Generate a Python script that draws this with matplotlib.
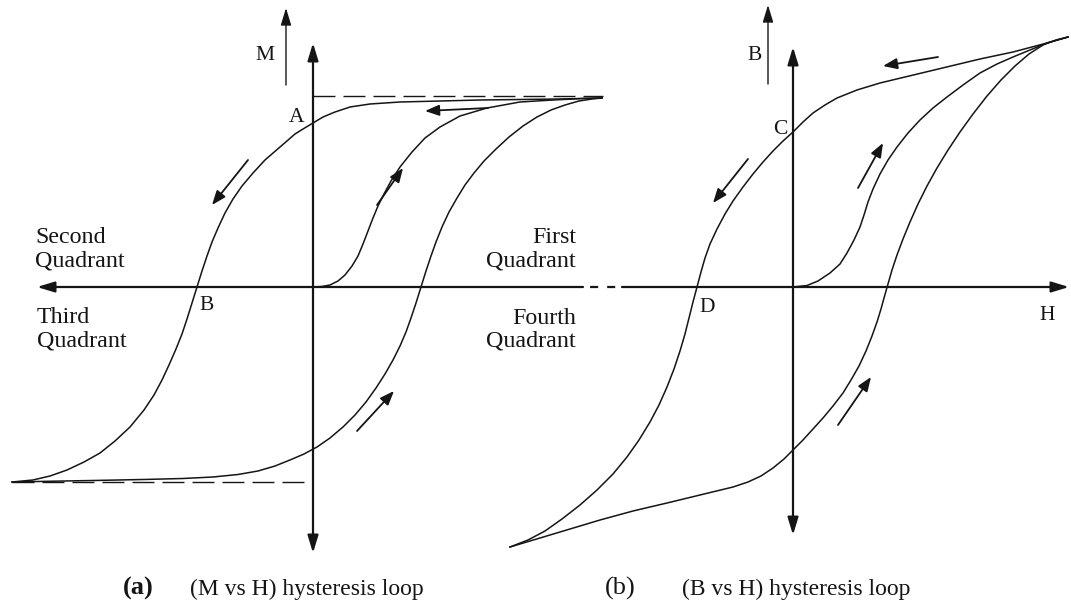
import numpy as np
import matplotlib.pyplot as plt

plt.rcParams['font.family'] = ['Liberation Serif', 'DejaVu Serif']
plt.rcParams['lines.scale_dashes'] = False

# --- (a) M vs H loop, field H to the right, M up (origin of the panel) ---
desc_a_h = [289, 247, 207, 167, 127, 87, 57, 37, 22, 10, 0, -10, -18, -33, -48, -60, -71, -80, -88,
            -95, -101, -106, -111, -116, -121, -126, -131, -137, -144, -151, -159, -169, -183,
            -198, -213, -229, -246, -263, -280, -301]
desc_a_m = [189, 188, 187.5, 187, 186, 185, 183, 180, 175, 170, 164, 158, 153, 140, 127, 114, 101, 88,
            74, 59, 45, 31, 16, 0, -16, -32, -47, -62, -78, -93, -108, -123, -140,
            -154, -166, -175, -183, -189, -193, -195]

asc_a_h = [-301, -260, -220, -170, -130, -100, -75, -55, -38, -23, -9, 4, 17, 30, 42, 53, 63, 72, 80,
           87, 93, 98, 103, 108, 113, 118, 123, 129, 136, 144, 152, 161, 171, 183, 196, 210, 224,
           238, 252, 266, 279, 289]
asc_a_m = [-195, -194.2, -193.5, -192.5, -191.5, -190, -187.5, -184, -179, -173, -167, -160, -151,
           -140, -128, -115, -101, -87, -73, -59, -45, -31, -16, 0, 16, 31, 45, 60, 75, 89, 102,
           114, 126, 138, 150, 161, 170, 177, 182, 186, 188, 189]

virgin_a_h = [0, 9, 17, 25, 32, 39, 45, 50, 55, 60, 65, 71, 78, 87, 99, 112, 127, 147, 174, 207,
              240, 270, 289]
virgin_a_m = [0, 0.5, 2, 6, 12, 21, 31, 43, 56, 69, 81, 93, 106, 120, 135, 149, 160, 171, 179, 185,
              187, 188.5, 189]

sat_a_top = ([0, 290], [191, 191])
sat_a_bottom = ([-301, 0], [-195, -195])

# direction arrows (tail, head)
arrows_a = [((175, 179), (112, 176)),
            ((-65, 127), (-101, 82)),
            ((64, 82), (90, 119)),
            ((44, -144), (81, -104))]

# --- (b) B vs H loop ---
desc_b_h = [275, 254, 220, 187, 162, 137, 112, 87, 64, 44, 32, 20, 10, 0, -10, -20, -30, -40, -50,
            -60, -68, -76, -83, -88, -92, -96, -100, -104, -108, -113, -119, -126, -134, -143,
            -154, -166, -180, -196, -213, -231, -248, -265, -283]
desc_b_m = [250, 244, 235, 228, 222, 216, 210, 204, 197, 189, 182, 174, 165, 155, 146, 136, 125, 113,
            100, 86, 73, 58, 43, 29, 15, 0, -15, -31, -47, -64, -82, -100, -118, -135,
            -153, -170, -187, -203, -218, -232, -244, -253, -260]

asc_b_h = [-283, -253, -223, -193, -160, -126, -93, -60, -45, -32, -20, -9, 0, 10, 20, 30, 40, 50,
           58, 66, 73, 79, 84, 88, 91, 95, 99, 104, 110, 117, 125, 134, 144, 155, 167, 180, 194,
           208, 222, 236, 250, 263, 275]
asc_b_m = [-260, -251, -242, -233, -224, -216, -208, -200, -195, -189, -181, -172, -163, -153, -142,
           -131, -119, -106, -93, -79, -64, -49, -35, -22, -11, 3, 17, 32, 48, 65, 83, 101, 119,
           137, 155, 173, 191, 207, 221, 233, 242, 247, 250]

virgin_b_h = [0, 14, 25, 37, 47, 54, 61, 67, 71, 75, 80, 87, 95, 104, 115, 127, 140, 154, 170, 187,
              204, 220, 237, 254, 275]
virgin_b_m = [0, 1.5, 6, 14, 23, 34, 47, 60, 72, 85, 98, 113, 127, 140, 154, 167, 179, 190, 202, 214,
              223, 230, 237, 244, 250]

arrows_b = [((145, 230), (90, 221)),
            ((-45, 128), (-80, 84)),
            ((65, 99), (90, 144)),
            ((45, -138), (78, -90))]

origin_a = (313, 287)
origin_b = (793, 287)
ink = '#151515'


def put(origin, h, m):
    return origin[0] + np.asarray(h, float), origin[1] - np.asarray(m, float)


def arrow(ax, tail, head, style, lw):
    ax.annotate('', xy=head, xytext=tail,
                arrowprops=dict(arrowstyle=style, color=ink, lw=lw,
                                shrinkA=0, shrinkB=0, mutation_scale=1))


fig = plt.figure(figsize=(10.71, 6.03), dpi=100)
ax = fig.add_axes([0, 0, 1, 1])
ax.set_xlim(0, 1071)
ax.set_ylim(603, 0)
ax.axis('off')

axis_head = '-|>,head_length=10.5,head_width=3.2'
axis_head2 = '<|-|>,head_length=10.5,head_width=3.2'
flow_head = '-|>,head_length=8.5,head_width=3.3'

# shared H axis with a short break between the panels
arrow(ax, (583, 287), (37, 287), axis_head, 1.6)
arrow(ax, (622, 287), (1069, 287), axis_head, 1.6)
ax.plot([583, 622], [287, 287], color=ink, lw=1.6, linestyle=(7.2, (5.8, 6.5)))

# vertical axes
arrow(ax, (313, 553), (313, 43), axis_head2, 1.6)
arrow(ax, (793, 535), (793, 47), axis_head2, 1.6)
arrow(ax, (286, 85), (286, 8), axis_head, 1.0)
arrow(ax, (768, 84), (768, 5), axis_head, 1.0)

for h, m in [(desc_a_h, desc_a_m), (asc_a_h, asc_a_m), (virgin_a_h, virgin_a_m)]:
    ax.plot(*put(origin_a, h, m), color=ink, lw=1.1, solid_joinstyle='round')
for h, m in [(desc_b_h, desc_b_m), (asc_b_h, asc_b_m), (virgin_b_h, virgin_b_m)]:
    ax.plot(*put(origin_b, h, m), color=ink, lw=1.1, solid_joinstyle='round')

for h, m in [sat_a_top, sat_a_bottom]:
    ax.plot(*put(origin_a, h, m), color=ink, lw=1.0, linestyle=(0, (15.8, 5.8)))

for tail, head in arrows_a:
    arrow(ax, put(origin_a, *tail), put(origin_a, *head), flow_head, 1.3)
for tail, head in arrows_b:
    arrow(ax, put(origin_b, *tail), put(origin_b, *head), flow_head, 1.3)

# quadrant names
qfont = dict(fontsize=17.3, color=ink, va='baseline')
ax.text(35, 243, 'Second', ha='left', **qfont)
ax.text(35, 266, 'Quadrant', ha='left', **qfont)
ax.text(37, 323, 'Third', ha='left', **qfont)
ax.text(37, 346, 'Quadrant', ha='left', **qfont)
ax.text(576, 243, 'First', ha='right', **qfont)
ax.text(576, 266, 'Quadrant', ha='right', **qfont)
ax.text(576, 324, 'Fourth', ha='right', **qfont)
ax.text(576, 346, 'Quadrant', ha='right', **qfont)

# point and axis letters
lfont = dict(fontsize=15.5, color=ink, ha='center', va='center')
ax.text(297, 117, 'A', **lfont)
ax.text(207, 306, 'B', **lfont)
ax.text(780, 129, 'C', **lfont)
ax.text(707, 308, 'D', **lfont)
ax.text(265, 55, 'M', **lfont)
ax.text(755, 55, 'B', **lfont)
ax.text(1047, 316, 'H', **lfont)

# captions
ax.text(123, 595, '(a)', fontsize=19, fontweight='bold', ha='left', va='baseline', color=ink)
ax.text(190, 595, '(M vs H) hysteresis loop', fontsize=17, ha='left', va='baseline', color=ink)
ax.text(605, 595, '(b)', fontsize=19, ha='left', va='baseline', color=ink)
ax.text(682, 595, '(B vs H) hysteresis loop', fontsize=17, ha='left', va='baseline', color=ink)

fig.savefig('out.png', dpi=100)
